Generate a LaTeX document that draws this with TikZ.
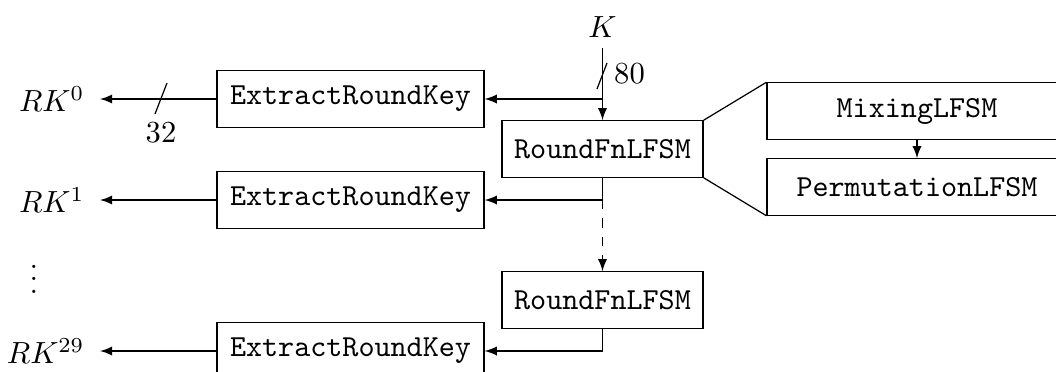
\documentclass[tikz,border=0pt]{standalone}
\usetikzlibrary{arrows}
\begin{document}
\begin{tikzpicture}[x=0.3268pt,y=-0.3268pt,
  blk/.style={draw,inner sep=0pt,minimum height=18.4pt,font=\ttfamily},
  erk/.style={blk,minimum width=87.3pt},
  rfn/.style={blk,minimum width=65.7pt},
  sub/.style={blk,minimum width=98pt},
  lbl/.style={anchor=east,inner xsep=4.9pt,inner ysep=0pt},
  arr/.style={-latex}]
\useasboundingbox (0,0) rectangle (1056,371);
% boxes
\node[erk] (E1) at (350.5,99) {ExtractRoundKey};
\node[erk] (E2) at (350.5,200) {ExtractRoundKey};
\node[erk] (E3) at (350.5,351) {ExtractRoundKey};
\node[rfn] (R1) at (602.5,149) {RoundFnLFSM};
\node[rfn] (R2) at (602.5,300) {RoundFnLFSM};
\node[sub] (M) at (917,111) {MixingLFSM};
\node[sub] (P) at (917,187) {PermutationLFSM};
% labels
\node (K) at (602.5,27) {$K$};
\node[lbl] (RK0) at (100,99) {$RK^{0}$};
\node[lbl] (RK1) at (100,200) {$RK^{1}$};
\node[lbl] (RK29) at (100,351) {$RK^{29}$};
\node (dots) at (34,270) {$\vdots$};
\node (n80) at (629.5,74) {$80$};
\node (n32) at (161,133) {$32$};
% connectors
\draw[arr] (R1.north |- K.south) -- (R1.north);
\draw[arr] (R1.north |- E1.east) -- (E1.east);
\draw[arr] (R1.south) -- (R1.south |- E2.east) -- (E2.east);
\draw[arr,dashed] (R1.south |- E2.east) -- (R2.north);
\draw[arr] (R2.south) -- (R2.south |- E3.east) -- (E3.east);
\draw[arr] (E1.west) -- (E1.west -| RK0.east);
\draw[arr] (E2.west) -- (E2.west -| RK1.east);
\draw[arr] (E3.west) -- (E3.west -| RK29.east);
\draw (R1.north east) -- (M.north west);
\draw (R1.south east) -- (P.south west);
\draw[arr] (M.south) -- (P.north);
% bus width marks
\draw (161,98.5) ++(-6,15.5) -- ++(12,-31);
\draw (602,76) ++(-5,13) -- ++(10,-26);
\end{tikzpicture}
\end{document}
